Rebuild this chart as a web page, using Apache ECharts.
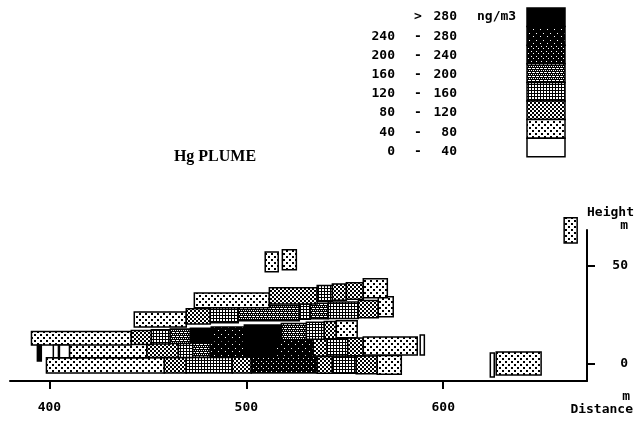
<!DOCTYPE html>
<html>
<head>
<meta charset="utf-8">
<script src="https://cdn.jsdelivr.net/npm/echarts@6/dist/echarts.min.js"></script>
<style>
  html, body { margin: 0; padding: 0; background: #fff; }
  #chart { width: 635px; height: 422px; }
</style>
</head>
<body>
<div id="chart"></div>
<script>
// cells: [distance from, distance to, height bottom, height top, concentration class]
// class 0 = 0-40, 1 = 40-80 ... 7 = >280 ng/m3
const bottomRow = [
  [398.5, 458.4, -4.6, 3.1, 1],
  [458.4, 469.5, -4.6, 3.3, 2],
  [469.5, 492.9, -4.6, 3.3, 3],
  [492.9, 502.5, -4.6, 3.5, 2],
  [502.5, 536.0, -4.6, 3.6, 5],
  [536.0, 543.7, -4.8, 3.8, 2],
  [543.7, 555.8, -4.8, 4.0, 3],
  [555.8, 566.5, -5.0, 4.1, 2],
  [566.5, 578.7, -5.2, 4.3, 1]
]
const secondRow = [
  [410.2, 449.5, 3.1, 10.7, 1],
  [449.5, 465.5, 3.3, 11.0, 2],
  [465.5, 472.8, 3.3, 11.2, 3],
  [472.8, 481.7, 3.4, 11.4, 4],
  [481.7, 499.0, 3.5, 11.7, 6],
  [499.0, 514.2, 3.6, 12.0, 7],
  [514.2, 534.0, 3.8, 12.4, 6],
  [534.0, 541.1, 4.0, 12.8, 2],
  [541.1, 551.5, 4.1, 13.0, 3],
  [551.5, 559.4, 4.2, 13.2, 2],
  [559.4, 586.8, 4.6, 13.8, 1]
]
const thirdRow = [
  [390.9, 441.6, 9.7, 16.6, 1],
  [441.6, 451.8, 9.9, 17.0, 2],
  [451.8, 461.4, 10.2, 17.4, 3],
  [461.4, 471.6, 10.4, 17.8, 4],
  [471.6, 482.2, 10.7, 18.2, 7],
  [482.2, 499.0, 11.0, 18.8, 6],
  [499.0, 517.8, 11.6, 19.8, 7],
  [517.8, 530.5, 12.2, 20.6, 4],
  [530.5, 539.6, 12.6, 21.2, 3],
  [539.6, 545.7, 12.9, 21.6, 2],
  [545.7, 556.3, 13.3, 22.0, 1]
]
const fourthRow = [
  [443.1, 469.5, 18.9, 26.5, 1],
  [469.5, 481.7, 20.4, 28.1, 2],
  [481.7, 495.9, 21.0, 28.8, 3],
  [495.9, 526.9, 22.0, 29.8, 4],
  [526.9, 532.5, 22.8, 30.6, 3],
  [532.5, 541.6, 23.0, 31.0, 4],
  [541.6, 556.9, 23.2, 31.6, 3],
  [556.9, 567.0, 23.5, 32.4, 2],
  [567.0, 574.6, 24.0, 34.2, 1]
]
const topRow = [
  [473.6, 511.7, 28.6, 36.2, 1],
  [511.7, 536.0, 30.6, 38.8, 2],
  [536.0, 543.7, 32.0, 40.0, 3],
  [543.7, 550.8, 32.5, 40.8, 2],
  [550.8, 559.4, 33.0, 41.4, 2],
  [559.4, 571.6, 33.8, 43.4, 1]
]
const looseCells = [
  [509.6, 516.2, 47.0, 57.1, 1],
  [518.3, 525.4, 48.0, 58.2, 1],
  [661.4, 668.0, 61.7, 74.5, 1],
  [626.9, 649.7, -5.6, 6.1, 1],
  [623.9, 625.9, -6.6, 5.6, 0],
  [588.3, 590.4, 4.6, 14.8, 0],
  [393.9, 395.9, 1.5, 9.7, 7],
  [402.0, 404.6, 3.1, 9.7, 0],
  [405.1, 410.2, 3.1, 9.7, 0]
]

const xTicks = [400, 500, 600]
const yTicks = [0, 50]

// legend, top to bottom
const legendFrom = ['', '240', '200', '160', '120', '80', '40', '0']
const legendSep = ['>', '-', '-', '-', '-', '-', '-', '-']
const legendTo = ['280', '280', '240', '200', '160', '120', '80', '40']
const legendClass = [7, 6, 5, 4, 3, 2, 1, 0]

// fill patterns per class, drawn on tiny canvases
function tile(w, h, bg, fg, spots) {
  const c = document.createElement('canvas')
  c.width = w; c.height = h
  const ctx = c.getContext('2d')
  ctx.fillStyle = bg; ctx.fillRect(0, 0, w, h)
  ctx.fillStyle = fg
  spots.forEach(s => ctx.fillRect(s[0], s[1], s[2], s[3]))
  return { image: c, repeat: 'repeat' }
}
const fills = [
  '#ffffff',
  tile(6, 6, '#fff', '#000', [[1, 1, 2, 2], [4, 4, 2, 2]]),
  tile(4, 4, '#fff', '#000', [[0, 0, 2, 2], [2, 2, 2, 2]]),
  tile(3, 3, '#fff', '#000', [[0, 0, 3, 1], [0, 0, 1, 3]]),
  tile(4, 4, '#000', '#fff', [[0, 0, 1, 1], [2, 0, 1, 1], [1, 2, 1, 1], [3, 2, 1, 1], [1, 0, 1, 1], [3, 2, 1, 1]]),
  tile(5, 5, '#000', '#fff', [[1, 1, 1, 1], [3, 3, 1, 1]]),
  tile(7, 7, '#000', '#fff', [[1, 1, 1, 1], [4, 5, 1, 1]]),
  '#000000'
]

const cells = [...bottomRow, ...secondRow, ...thirdRow, ...fourthRow, ...topRow, ...looseCells]

const mono = 'DejaVu Sans Mono'
const txt = { fontFamily: mono, fontWeight: 'bold', fontSize: 13, fill: '#000' }

const graphic = []
legendFrom.forEach((v, i) => {
  const y = 17 + i * 19.2
  graphic.push({ type: 'text', x: 395, y, style: { ...txt, text: v, align: 'right', verticalAlign: 'middle' } })
  graphic.push({ type: 'text', x: 418, y, style: { ...txt, text: legendSep[i], align: 'center', verticalAlign: 'middle' } })
  graphic.push({ type: 'text', x: 457, y, style: { ...txt, text: legendTo[i], align: 'right', verticalAlign: 'middle' } })
  graphic.push({ type: 'rect', shape: { x: 527, y: 8 + i * 18.6, width: 38, height: 18.6 },
    style: { fill: fills[legendClass[i]], stroke: '#000', lineWidth: 1.5 } })
})
graphic.push({ type: 'text', x: 477, y: 17, style: { ...txt, text: 'ng/m3', verticalAlign: 'middle' } })
graphic.push({ type: 'text', x: 215, y: 157, style: { text: 'Hg PLUME', fontFamily: 'Liberation Serif', fontWeight: 'bold', fontSize: 16, fill: '#000', align: 'center', verticalAlign: 'middle' } })
graphic.push({ type: 'text', x: 634, y: 213, style: { ...txt, text: 'Height', align: 'right', verticalAlign: 'middle' } })
graphic.push({ type: 'text', x: 628, y: 226, style: { ...txt, text: 'm', align: 'right', verticalAlign: 'middle' } })
graphic.push({ type: 'text', x: 630, y: 397, style: { ...txt, text: 'm', align: 'right', verticalAlign: 'middle' } })
graphic.push({ type: 'text', x: 633, y: 410, style: { ...txt, text: 'Distance', align: 'right', verticalAlign: 'middle' } })

const chart = echarts.init(document.getElementById('chart'), null, { renderer: 'canvas' })
chart.setOption({
  backgroundColor: '#fff',
  animation: false,
  grid: { left: 10, right: 48, top: 230, bottom: 41 },
  xAxis: {
    type: 'value', min: 380, max: 673,
    axisLine: { onZero: false, lineStyle: { color: '#000', width: 2 } },
    axisTick: { customValues: xTicks, length: 8, lineStyle: { color: '#000', width: 2 } },
    axisLabel: { customValues: xTicks, margin: 20, color: '#000', fontFamily: mono, fontWeight: 'bold', fontSize: 13 },
    splitLine: { show: false }
  },
  yAxis: {
    type: 'value', position: 'right', min: -8.7, max: 68.3,
    axisLine: { show: true, onZero: false, lineStyle: { color: '#000', width: 2 } },
    axisTick: { show: true, customValues: yTicks, length: 8, lineStyle: { color: '#000', width: 2 } },
    axisLabel: { customValues: yTicks, align: 'right', margin: 41, color: '#000', fontFamily: mono, fontWeight: 'bold', fontSize: 13 },
    splitLine: { show: false }
  },
  graphic,
  series: [{
    type: 'custom',
    clip: false,
    silent: true,
    encode: { x: [0, 1], y: [2, 3] },
    data: cells,
    renderItem(params, api) {
      const a = api.coord([api.value(0), api.value(3)])
      const b = api.coord([api.value(1), api.value(2)])
      return {
        type: 'rect',
        shape: { x: a[0], y: a[1], width: b[0] - a[0], height: b[1] - a[1] },
        style: { fill: fills[api.value(4)], stroke: '#000', lineWidth: 1.5 }
      }
    }
  }]
})
</script>
</body>
</html>
